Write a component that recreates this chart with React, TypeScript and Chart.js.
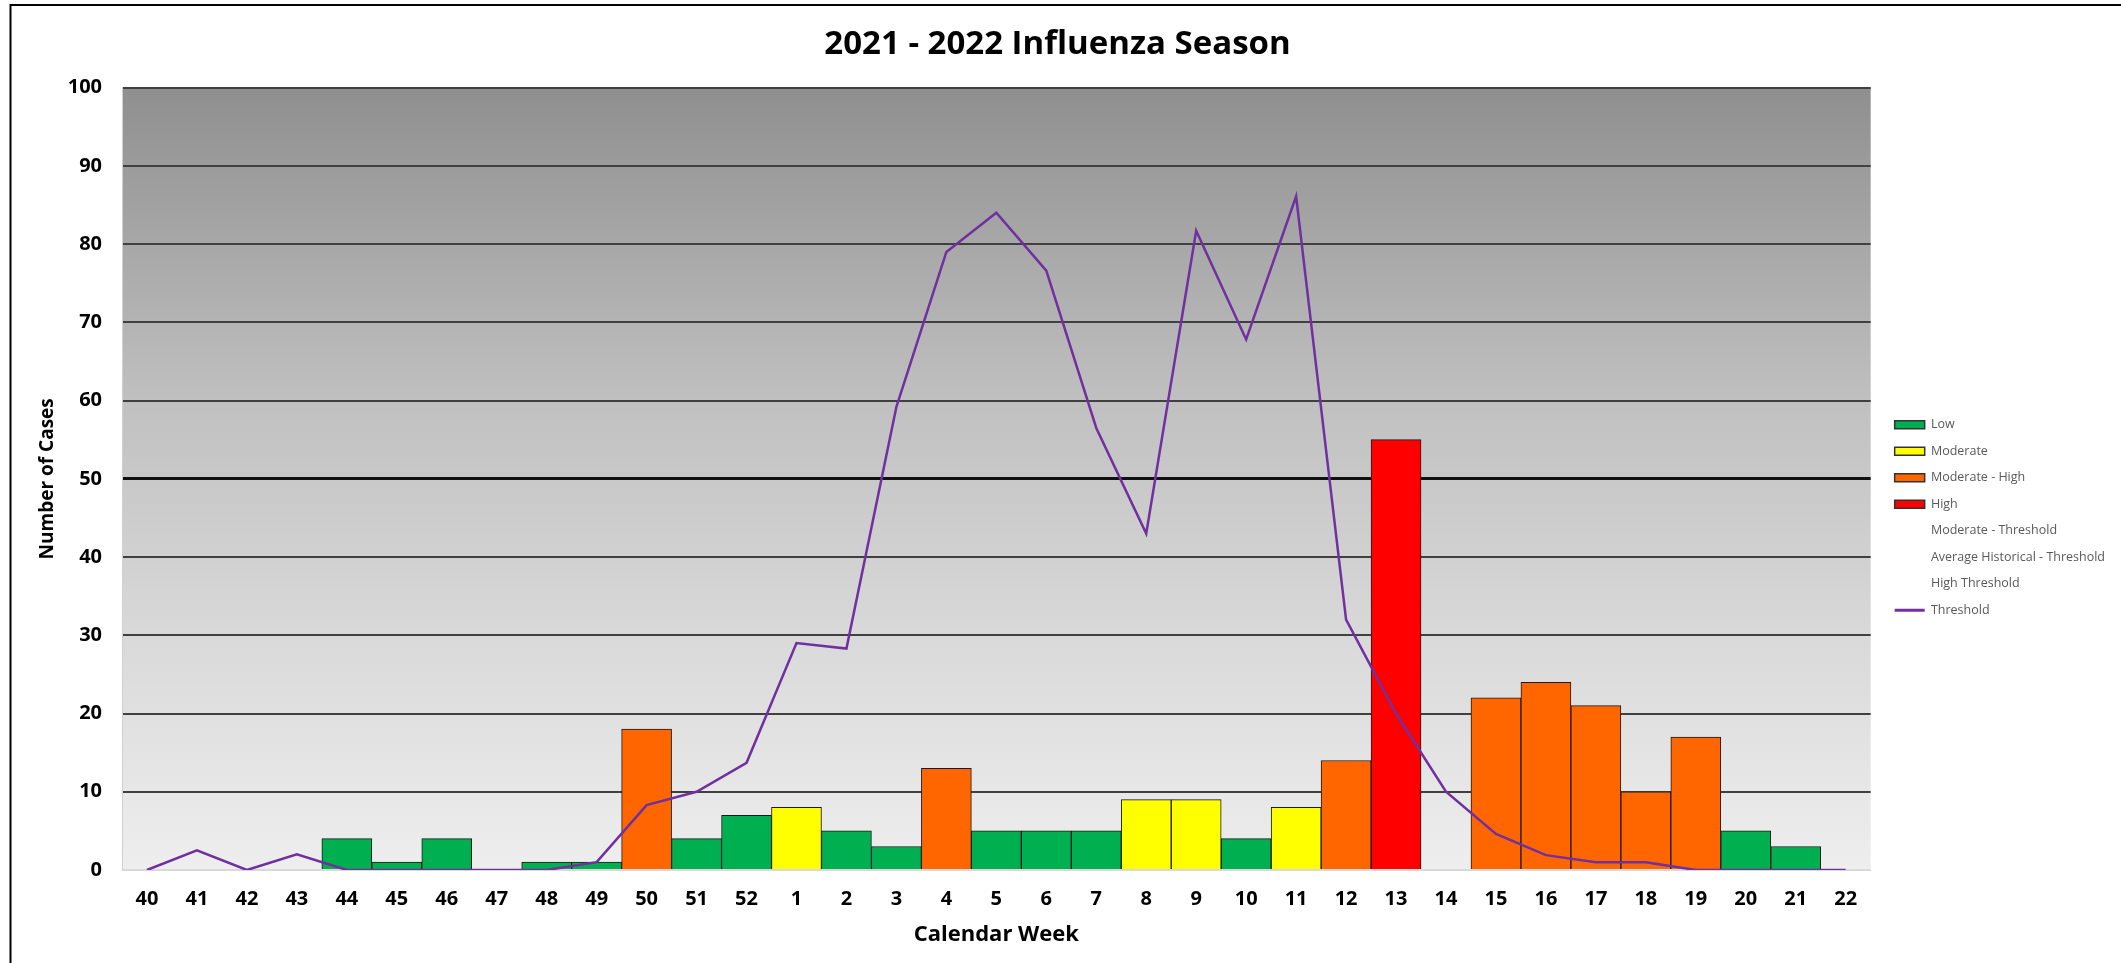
import React, { useEffect, useRef } from "react";
import { Chart, registerables } from "chart.js";

Chart.register(...registerables);

// ---- data ----
const weeks: string[] = [
  "40", "41", "42", "43", "44", "45", "46", "47", "48", "49", "50", "51", "52",
  "1", "2", "3", "4", "5", "6", "7", "8", "9", "10", "11", "12", "13", "14",
  "15", "16", "17", "18", "19", "20", "21", "22",
];

// activity level of each week's case count (null = no bar)
const lowCases: (number | null)[] = [
  null, null, null, null, 4, 1, 4, null, 1, 1, null, 4, 7,
  null, 5, 3, null, 5, 5, 5, null, null, 4, null, null, null, null,
  null, null, null, null, null, 5, 3, null,
];
const moderateCases: (number | null)[] = [
  null, null, null, null, null, null, null, null, null, null, null, null, null,
  8, null, null, null, null, null, null, 9, 9, null, 8, null, null, null,
  null, null, null, null, null, null, null, null,
];
const modHighCases: (number | null)[] = [
  null, null, null, null, null, null, null, null, null, null, 18, null, null,
  null, null, null, 13, null, null, null, null, null, null, null, 14, null, null,
  22, 24, 21, 10, 17, null, null, null,
];
const highCases: (number | null)[] = [
  null, null, null, null, null, null, null, null, null, null, null, null, null,
  null, null, null, null, null, null, null, null, null, null, null, null, 55, null,
  null, null, null, null, null, null, null, null,
];
const thresholdValues: number[] = [
  0, 2.5, 0, 2, 0, 0, 0, 0, 0, 1, 8.3, 10, 13.7,
  29, 28.3, 59.2, 79, 84, 76.6, 56.5, 43, 81.7, 67.8, 86.1, 32, 20, 10,
  4.6, 1.9, 1, 1, 0, 0, 0, 0,
];
const emptySeries: (number | null)[] = weeks.map(() => null);

const yTicks = { min: 0, max: 100, step: 10 };

const FONT = "'Open Sans', 'DejaVu Sans', sans-serif";
const LINE_COLOR = "#7030A0";

const plotBackground = {
  id: "plotBackground",
  beforeDraw(chart: any) {
    const { ctx, chartArea: a } = chart;
    const g = ctx.createLinearGradient(0, a.top, 0, a.bottom);
    g.addColorStop(0, "#8f8f8f");
    g.addColorStop(0.4, "#c0c0c0");
    g.addColorStop(0.7, "#d9d9d9");
    g.addColorStop(1, "#eeeeee");
    ctx.save();
    ctx.fillStyle = g;
    ctx.fillRect(a.left, a.top, a.right - a.left, a.bottom - a.top);
    ctx.restore();
  },
  afterDraw(chart: any) {
    const { ctx, width, height } = chart;
    ctx.save();
    ctx.strokeStyle = "#000";
    ctx.lineWidth = 2;
    ctx.beginPath();
    ctx.moveTo(10.5, height + 5);
    ctx.lineTo(10.5, 5);
    ctx.lineTo(width + 5, 5);
    ctx.stroke();
    ctx.restore();
  },
};

export default function App() {
  const ref = useRef<HTMLCanvasElement | null>(null);

  useEffect(() => {
    if (!ref.current) return;
    const barBase = {
      type: "bar" as const,
      borderColor: "#1a1a1a",
      borderWidth: 1,
      barPercentage: 1,
      categoryPercentage: 1,
      skipNull: true,
    };
    const chart = new Chart(ref.current, {
      type: "bar",
      data: {
        labels: weeks,
        datasets: [
          { ...barBase, label: "Low", data: lowCases, backgroundColor: "#00B050" },
          { ...barBase, label: "Moderate", data: moderateCases, backgroundColor: "#FFFF00" },
          { ...barBase, label: "Moderate - High", data: modHighCases, backgroundColor: "#FF6600" },
          { ...barBase, label: "High", data: highCases, backgroundColor: "#FF0000" },
          { type: "line", label: "Moderate - Threshold", data: emptySeries, borderWidth: 0, pointRadius: 0, borderColor: "rgba(0,0,0,0)" },
          { type: "line", label: "Average Historical - Threshold", data: emptySeries, borderWidth: 0, pointRadius: 0, borderColor: "rgba(0,0,0,0)" },
          { type: "line", label: "High Threshold", data: emptySeries, borderWidth: 0, pointRadius: 0, borderColor: "rgba(0,0,0,0)" },
          {
            type: "line",
            label: "Threshold",
            data: thresholdValues,
            borderColor: LINE_COLOR,
            backgroundColor: LINE_COLOR,
            borderWidth: 2.5,
            pointRadius: 0,
            tension: 0,
            order: -1,
          },
        ] as any,
      },
      options: {
        responsive: false,
        animation: false,
        layout: { padding: { right: 6, top: 0, bottom: 0, left: 0 } },
        plugins: {
          tooltip: { enabled: false },
          title: {
            display: true,
            text: "2021 - 2022 Influenza Season",
            color: "#000",
            font: { family: FONT, size: 33, weight: "bold" },
            padding: { top: 25, bottom: 23 },
          },
          legend: {
            position: "right",
            align: "center",
            maxWidth: 240,
            title: { display: true, text: " ", font: { size: 10 }, padding: { top: 30, bottom: 30 } },
            labels: {
              usePointStyle: true,
              pointStyleWidth: 30,
              boxWidth: 30,
              boxHeight: 8,
              padding: 14,
              color: "#595959",
              font: { family: FONT, size: 12.5 },
              generateLabels: (chart: any) =>
                chart.data.datasets.map((ds: any, i: number) => {
                  const isBar = ds.type === "bar";
                  const isLine = ds.label === "Threshold";
                  return {
                    text: ds.label,
                    fillStyle: isBar ? ds.backgroundColor : "rgba(0,0,0,0)",
                    strokeStyle: isBar ? "#333333" : isLine ? LINE_COLOR : "rgba(0,0,0,0)",
                    lineWidth: isBar ? 1.5 : isLine ? 3 : 0,
                    pointStyle: isLine ? "line" : "rect",
                    hidden: false,
                    datasetIndex: i,
                    fontColor: "#595959",
                  };
                }),
            },
          },
        },
        scales: {
          x: {
            grid: { display: false, drawTicks: false },
            border: { display: true, color: "#d9d9d9", width: 1 },
            ticks: {
              color: "#000",
              font: { family: FONT, size: 20, weight: "bold" },
              padding: 17,
              maxRotation: 0,
              autoSkip: false,
            },
            title: {
              display: true,
              text: "Calendar Week",
              color: "#000",
              font: { family: FONT, size: 22, weight: "bold" },
              padding: { top: 8, bottom: 15 },
            },
            afterFit: (s: any) => {
              s.height = 93;
            },
          },
          y: {
            min: yTicks.min,
            max: yTicks.max,
            grid: {
              drawTicks: false,
              color: (c: any) =>
                c.tick && c.tick.value === 0 ? "#d9d9d9" : c.tick && c.tick.value === 50 ? "#111111" : "#404040",
              lineWidth: (c: any) => (c.tick && c.tick.value === 50 ? 3 : 2),
            },
            border: { display: true, color: "#d0d0d0", width: 1 },
            ticks: {
              stepSize: yTicks.step,
              color: "#000",
              font: { family: FONT, size: 20, weight: "bold" },
              padding: 20,
            },
            title: {
              display: true,
              text: "Number of Cases",
              color: "#000",
              font: { family: FONT, size: 19, weight: "bold" },
              padding: { top: 36, bottom: 11 },
            },
            afterFit: (s: any) => {
              s.width = 122;
            },
          },
          yGap: {
            type: "linear",
            position: "right",
            display: true,
            grid: { display: false, drawTicks: false },
            border: { display: false },
            ticks: { display: false },
            afterFit: (s: any) => {
              s.width = 10;
            },
          },
        },
      } as any,
      plugins: [plotBackground],
    });
    return () => chart.destroy();
  }, []);

  return (
    <div style={{ position: "fixed", left: 0, top: 0, width: 2121, height: 963, background: "#fff" }}>
      <canvas ref={ref} width={2121} height={963} style={{ display: "block" }} />
    </div>
  );
}
